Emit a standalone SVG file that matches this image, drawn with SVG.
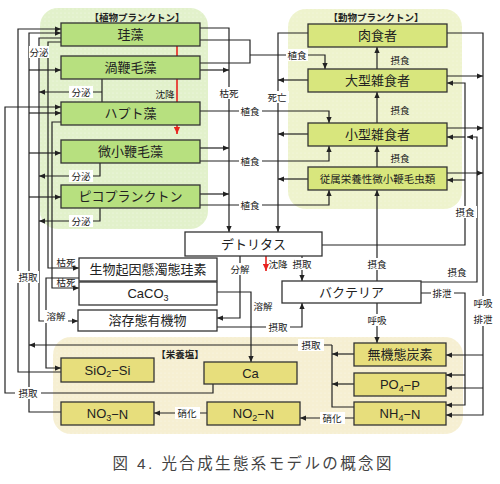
<svg xmlns="http://www.w3.org/2000/svg" width="500" height="484" viewBox="0 0 500 484">
<defs>
<marker id="ah" viewBox="0 0 8 8" refX="8" refY="4" markerWidth="6" markerHeight="6" orient="auto" markerUnits="userSpaceOnUse"><path d="M0,0.5 L8,4 L0,7.5 z" fill="#222"/></marker>
<marker id="ahr" viewBox="0 0 8 8" refX="8" refY="4" markerWidth="7" markerHeight="7" orient="auto" markerUnits="userSpaceOnUse"><path d="M0,0.5 L8,4 L0,7.5 z" fill="#e8231e"/></marker>
<pattern id="dotG" width="4" height="4" patternUnits="userSpaceOnUse"><rect width="4" height="4" fill="#e2f1cb"/><circle cx="1" cy="1" r="0.6" fill="#f3f9ea"/></pattern>
<pattern id="dotZ" width="4" height="4" patternUnits="userSpaceOnUse"><rect width="4" height="4" fill="#eef3cd"/><circle cx="1" cy="1" r="0.6" fill="#f7f9e6"/></pattern>
<pattern id="dotN" width="4" height="4" patternUnits="userSpaceOnUse"><rect width="4" height="4" fill="#f6efd2"/><circle cx="1" cy="1" r="0.6" fill="#fbf8ea"/></pattern>
</defs>
<style>
text{font-family:"Liberation Sans","Noto Sans CJK JP",sans-serif;fill:#222;text-anchor:middle;dominant-baseline:central}
.bx{stroke:#333;stroke-width:1.3}
.ph{fill:#b7e07f}
.zo{fill:#d8e67d}
.nu{fill:#e7de7c}
.wh{fill:#fff}
.t{font-size:13px}
.ts{font-size:10.5px}
.lb{font-size:9.5px}
.ttl{font-size:9.5px;font-weight:bold}
.ln{stroke:#222;stroke-width:1.2;fill:none}
.ar{marker-end:url(#ah)}
.rd{stroke:#e8231e;stroke-width:1.6;fill:none}
.bg{fill:#fff}
</style>

<g id="regions">
<rect x="40" y="8" width="168" height="221" rx="18" fill="url(#dotG)"/>
<rect x="288" y="9" width="174" height="200" rx="18" fill="url(#dotZ)"/>
<rect x="53" y="337" width="410" height="97" rx="18" fill="url(#dotN)"/>
<text class="ttl" x="137" y="17">【植物プランクトン】</text>
<text class="ttl" x="376" y="17">【動物プランクトン】</text>
<text class="ttl" x="180" y="354">【栄養塩】</text>
</g>

<g id="connectors">
<!-- uptake lines on left -->
<path class="ln ar" d="M61,372 H18 V29 H61"/>
<path class="ln ar" d="M61,412 H29 V33 H61"/>
<path class="ln ar" d="M29,70 H61"/>
<path class="ln ar" d="M29,113 H61"/>
<path class="ln ar" d="M29,153 H61"/>
<path class="ln ar" d="M29,197 H61"/>
<path class="ln ar" d="M332,345 H29"/>
<path class="ln" d="M354,407 H332 V345"/>
<path class="ln ar" d="M354,354 H332"/>
<path class="ln ar" d="M354,384 H332"/>
<path class="ln ar" d="M213,384 V393 H5 V107 H61"/>
<!-- secretion -->
<path class="ln ar" d="M61,38 H39 V321 H78"/>
<path class="ln" d="M102,79 V102"/>
<path class="ln ar" d="M102,92 H39"/>
<path class="ln ar" d="M100,163 V176 H39"/>
<path class="ln ar" d="M100,208 V221 H39"/>
<!-- death to particulate -->
<path class="ln ar" d="M61,42 H48 V268 H79"/>
<path class="ln ar" d="M61,122 H52 V288 H79"/>
<path class="ln ar" d="M79,278 H46 V368 H61"/>
<!-- sinking red -->
<path class="rd" d="M177,46 V56"/>
<path class="rd" d="M177,79 V102"/>
<path class="rd" d="M177,125 V134" marker-end="url(#ahr)"/>
<path class="rd" d="M266,256 V271" marker-end="url(#ahr)"/>
<!-- phyto death to detritus -->
<path class="ln ar" d="M200,28 H229 V232"/>
<path class="ln ar" d="M200,70 H229"/>
<path class="ln ar" d="M200,148 H229"/>
<path class="ln ar" d="M200,194 H229"/>
<!-- grazing -->
<path class="ln" d="M200,40 H250 V63 H200"/>
<path class="ln ar" d="M250,55 H325 V69"/>
<path class="ln ar" d="M200,111 H329 V123"/>
<path class="ln ar" d="M200,161 H329 V146"/>
<path class="ln ar" d="M200,205 H329 V190"/>
<!-- zoo death -->
<path class="ln ar" d="M308,33 H278 V232"/>
<path class="ln ar" d="M308,80 H278"/>
<path class="ln ar" d="M308,134 H278"/>
<path class="ln ar" d="M308,179 H278"/>
<!-- feeding in zoo -->
<path class="ln ar" d="M377,69 V47"/>
<path class="ln ar" d="M377,123 V92"/>
<path class="ln ar" d="M377,167 V146"/>
<path class="ln ar" d="M377,281 V190"/>
<!-- right side -->
<path class="ln ar" d="M447,33 H483 V415 H446"/>
<path class="ln ar" d="M447,76 H483"/>
<path class="ln ar" d="M447,128 H483"/>
<path class="ln ar" d="M447,173 H483"/>
<path class="ln ar" d="M483,355 H446"/>
<path class="ln ar" d="M483,388 H446"/>
<path class="ln ar" d="M322,245 H465 V83 H447"/>
<path class="ln ar" d="M465,137 H447"/>
<path class="ln ar" d="M465,180 H447"/>
<path class="ln ar" d="M421,282 H477 V137 H467"/>
<path class="ln ar" d="M421,293 H465 V405 H446"/>
<path class="ln ar" d="M465,375 H446"/>
<!-- detritus / bacteria / dissolved -->
<path class="ln ar" d="M302,256 V281"/>
<path class="ln ar" d="M240,256 V318 H217"/>
<path class="ln ar" d="M217,292 H251 V362"/>
<path class="ln ar" d="M217,327 H302 V303"/>
<path class="ln ar" d="M377,303 V343"/>
<path class="ln ar" d="M354,418 H300"/>
<path class="ln ar" d="M207,413 H154"/>

<!-- labels -->
<rect class="bg" x="29" y="46" width="20" height="12"/><text class="lb" x="39" y="52">分泌</text>
<rect class="bg" x="69" y="86" width="24" height="12"/><text class="lb" x="81" y="92">分泌</text>
<rect class="bg" x="69" y="170" width="24" height="12"/><text class="lb" x="81" y="176">分泌</text>
<rect class="bg" x="69" y="215" width="24" height="12"/><text class="lb" x="81" y="221">分泌</text>
<text class="lb" x="165" y="94">沈降</text>
<rect class="bg" x="218" y="87" width="22" height="12"/><text class="lb" x="229" y="93">枯死</text>
<rect class="bg" x="286" y="49" width="22" height="12"/><text class="lb" x="297" y="55">植食</text>
<rect class="bg" x="239" y="105" width="23" height="12"/><text class="lb" x="250" y="111">植食</text>
<rect class="bg" x="239" y="155" width="23" height="12"/><text class="lb" x="250" y="161">植食</text>
<rect class="bg" x="239" y="199" width="23" height="12"/><text class="lb" x="250" y="205">植食</text>
<rect class="bg" x="266" y="91" width="23" height="12"/><text class="lb" x="277" y="97">死亡</text>
<text class="lb" x="400" y="60">摂食</text>
<text class="lb" x="400" y="110">摂食</text>
<text class="lb" x="400" y="158">摂食</text>
<rect class="bg" x="366" y="258" width="23" height="12"/><text class="lb" x="377" y="264">摂食</text>
<rect class="bg" x="454" y="206" width="23" height="12"/><text class="lb" x="465" y="212">摂食</text>
<text class="lb" x="457" y="272">摂食</text>
<rect class="bg" x="431" y="287" width="23" height="12"/><text class="lb" x="442" y="293">排泄</text>
<rect class="bg" x="472" y="296" width="22" height="30"/><text class="lb" x="483" y="303">呼吸</text><text class="lb" x="483" y="319">排泄</text>
<rect class="bg" x="17" y="271" width="22" height="12"/><text class="lb" x="28" y="277">摂取</text>
<text class="lb" x="66" y="262">枯死</text>
<text class="lb" x="66" y="282">枯死</text>
<rect class="bg" x="44" y="310" width="24" height="13"/><text class="lb" x="56" y="316">溶解</text>
<rect class="bg" x="229" y="263" width="22" height="12"/><text class="lb" x="240" y="269">分解</text>
<text class="lb" x="278" y="264">沈降</text>
<rect class="bg" x="291" y="258" width="22" height="12"/><text class="lb" x="302" y="264">摂取</text>
<text class="lb" x="263" y="306">溶解</text>
<rect class="bg" x="266" y="321" width="24" height="12"/><text class="lb" x="278" y="327">摂取</text>
<rect class="bg" x="366" y="314" width="23" height="12"/><text class="lb" x="377" y="320">呼吸</text>
<rect class="bg" x="298" y="339" width="26" height="12"/><text class="lb" x="311" y="345">摂取</text>
<rect class="bg" x="15" y="387" width="26" height="12"/><text class="lb" x="28" y="393">摂取</text>
<rect class="bg" x="320" y="412" width="25" height="12"/><text class="lb" x="332" y="418">硝化</text>
<rect class="bg" x="175" y="407" width="25" height="12"/><text class="lb" x="187" y="413">硝化</text>
</g>

<g id="n-keisou"><rect class="bx ph" x="61" y="23" width="139" height="23"/><text class="t" x="130.5" y="34.5">珪藻</text></g>
<g id="n-uzu"><rect class="bx ph" x="61" y="56" width="139" height="23"/><text class="t" x="130.5" y="67.5">渦鞭毛藻</text></g>
<g id="n-hapto"><rect class="bx ph" x="61" y="102" width="139" height="23"/><text class="t" x="130.5" y="113.5">ハプト藻</text></g>
<g id="n-bishou"><rect class="bx ph" x="61" y="140" width="139" height="23"/><text class="t" x="130.5" y="151.5">微小鞭毛藻</text></g>
<g id="n-pico"><rect class="bx ph" x="61" y="185" width="139" height="23"/><text class="t" x="130.5" y="196.5">ピコプランクトン</text></g>

<g id="n-niku"><rect class="bx zo" x="308" y="24" width="139" height="23"/><text class="t" x="377.5" y="35.5">肉食者</text></g>
<g id="n-ogata"><rect class="bx zo" x="308" y="69" width="139" height="23"/><text class="t" x="377.5" y="80.5">大型雑食者</text></g>
<g id="n-kogata"><rect class="bx zo" x="308" y="123" width="139" height="23"/><text class="t" x="377.5" y="134.5">小型雑食者</text></g>
<g id="n-juzoku"><rect class="bx zo" x="308" y="167" width="139" height="23"/><text class="ts" x="377.5" y="178.5">従属栄養性微小鞭毛虫類</text></g>

<g id="n-detritus"><rect class="bx wh" x="185" y="232" width="137" height="24"/><text class="t" x="253.5" y="244">デトリタス</text></g>
<g id="n-bsi"><rect class="bx wh" x="79" y="258" width="138" height="23"/><text class="t" x="148" y="269.5">生物起因懸濁態珪素</text></g>
<g id="n-caco3"><rect class="bx wh" x="79" y="282" width="138" height="23"/><text class="t" x="148" y="293.5">CaCO<tspan font-size="9" dy="4">3</tspan></text></g>
<g id="n-doc"><rect class="bx wh" x="78" y="310" width="139" height="21"/><text class="t" x="147.5" y="320.5">溶存態有機物</text></g>
<g id="n-bact"><rect class="bx wh" x="282" y="281" width="139" height="22"/><text class="t" x="351.5" y="292">バクテリア</text></g>

<g id="n-sio2"><rect class="bx nu" x="61" y="358" width="93" height="24"/><text class="t" x="107.5" y="370">SiO<tspan font-size="9" dy="4">2</tspan><tspan dy="-4">−Si</tspan></text></g>
<g id="n-ca"><rect class="bx nu" x="204" y="362" width="93" height="22"/><text class="t" x="250.5" y="373">Ca</text></g>
<g id="n-no3"><rect class="bx nu" x="61" y="402" width="93" height="23"/><text class="t" x="107.5" y="413.5">NO<tspan font-size="9" dy="4">3</tspan><tspan dy="-4">−N</tspan></text></g>
<g id="n-no2"><rect class="bx nu" x="207" y="402" width="93" height="23"/><text class="t" x="253.5" y="413.5">NO<tspan font-size="9" dy="4">2</tspan><tspan dy="-4">−N</tspan></text></g>
<g id="n-dic"><rect class="bx nu" x="354" y="343" width="92" height="23"/><text class="t" x="400" y="354.5">無機態炭素</text></g>
<g id="n-po4"><rect class="bx nu" x="354" y="373" width="92" height="23"/><text class="t" x="400" y="384.5">PO<tspan font-size="9" dy="4">4</tspan><tspan dy="-4">−P</tspan></text></g>
<g id="n-nh4"><rect class="bx nu" x="354" y="402" width="92" height="23"/><text class="t" x="400" y="413.5">NH<tspan font-size="9" dy="4">4</tspan><tspan dy="-4">−N</tspan></text></g>

<text x="252" y="463" font-size="15.5" fill="#444" style="fill:#444" textLength="279" lengthAdjust="spacing">図 4. 光合成生態系モデルの概念図</text>
</svg>
